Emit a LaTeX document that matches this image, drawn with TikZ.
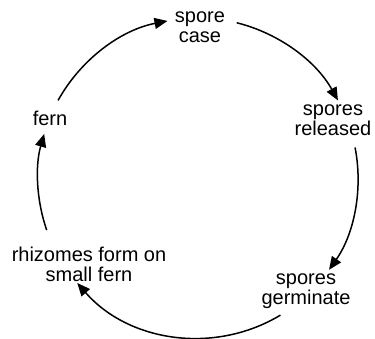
\documentclass[tikz,border=0pt]{standalone}
\usepackage{fontspec}
\setmainfont{Liberation Sans}
\usetikzlibrary{arrows.meta}
\begin{document}
\begin{tikzpicture}[x=1pt,y=-1pt,
  lbl/.style={align=center,inner sep=0pt,font=\fontsize{20}{20}\selectfont},
  cyc/.style={line width=1.5pt,-{Triangle[length=13pt,width=11pt]}}]
\useasboundingbox (0,0) rectangle (375,339);
\coordinate (c) at (198,178);
\node[lbl] (sc) at (200,27) {spore\\case};
\node[lbl] (sr) at (333,120) {spores\\released};
\node[lbl] (sg) at (306,291) {spores\\germinate};
\node[lbl] (rh) at (89,264) {rhizomes form on\\small fern};
\node[lbl] (fe) at (50,118) {fern};
\draw[cyc] ([shift={(151:160pt)}]c) arc[start angle=151,end angle=101,radius=160pt];
\draw[cyc] ([shift={(76:160pt)}]c) arc[start angle=76,end angle=29,radius=160pt];
\draw[cyc] ([shift={(11:160pt)}]c) arc[start angle=11,end angle=-35,radius=160pt];
\draw[cyc] ([shift={(-59:160pt)}]c) arc[start angle=-59,end angle=-139,radius=160pt];
\draw[cyc] ([shift={(199:160pt)}]c) arc[start angle=199,end angle=164,radius=160pt];
\end{tikzpicture}
\end{document}
